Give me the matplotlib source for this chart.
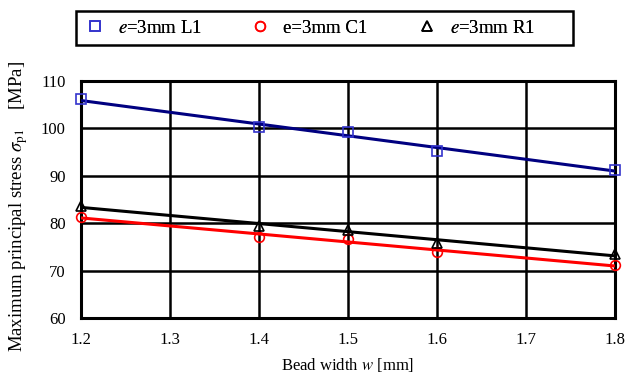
import numpy as np
import matplotlib
matplotlib.use("Agg")
import matplotlib.pyplot as plt
from matplotlib.patches import Rectangle

plt.rcParams['font.family'] = ['Liberation Serif', 'DejaVu Serif']
plt.rcParams['mathtext.fontset'] = 'stix'

# Bead width [mm]
w = np.array([1.2, 1.4, 1.5, 1.6, 1.8])

# Maximum principal stress [MPa]
stress_L1 = np.array([106.2, 100.2, 99.2, 95.3, 91.3])
stress_C1 = np.array([81.4, 77.1, 76.6, 73.9, 71.2])
stress_R1 = np.array([83.7, 79.4, 78.6, 75.9, 73.5])

labels = ['$e$=3mm L1', 'e=3mm C1', '$e$=3mm R1']
x_ticks = [1.2, 1.3, 1.4, 1.5, 1.6, 1.7, 1.8]
y_ticks = [60, 70, 80, 90, 100, 110]

W, H = 632, 374
fig = plt.figure(figsize=(W / 100, H / 100), dpi=100)
ax = fig.add_axes([81 / W, 1 - 318 / H, (615 - 81) / W, (318 - 81) / H])

series = [
    (stress_L1, '#3333cc', '#000080', 's', labels[0]),
    (stress_C1, '#ff0000', '#ff0000', 'o', labels[1]),
    (stress_R1, '#000000', '#000000', '^', labels[2]),
]

# linear trend lines first, then markers on top
for y, mcol, lcol, mk, lab in series:
    k, b = np.polyfit(w, y, 1)
    xx = np.array([w.min(), w.max()])
    ax.plot(xx, k * xx + b, color=lcol, lw=2.2, zorder=3)

handles = []
for y, mcol, lcol, mk, lab in series:
    h, = ax.plot(w, y, linestyle='none', marker=mk, markersize=7,
                 markerfacecolor='none', markeredgecolor=mcol,
                 markeredgewidth=1.2, label=lab, zorder=4, clip_on=False)
    handles.append(h)

ax.set_xlim(1.2, 1.8)
ax.set_ylim(60, 110)
ax.set_xticks(x_ticks)
ax.set_yticks(y_ticks)
ax.set_xticklabels([f'{t:.1f}' for t in x_ticks], fontsize=12)
ax.set_yticklabels([str(t) for t in y_ticks], fontsize=12)
ax.tick_params(axis='x', length=0, pad=10)
ax.tick_params(axis='y', length=0, pad=11)
ax.grid(True, color='black', lw=1.8, zorder=1)
ax.set_axisbelow(True)
for s in ax.spines.values():
    s.set_linewidth(2.2)

ax.set_xlabel('Bead width $w$ [mm]', fontsize=12, labelpad=6)
ax.set_ylabel(r'Maximum principal stress $\sigma_{\rm p1}$    [MPa]', fontsize=13.5)
ax.yaxis.set_label_coords(-51 / 534, (318 - 206) / 237)

# legend: framed box with three entries placed like the original
fig.add_artist(Rectangle((76 / W, 1 - 45 / H), (573 - 76) / W, 34 / H,
                         transform=fig.transFigure, fill=False,
                         edgecolor='black', linewidth=1.8))
marker_x = [95, 260, 427]
for h, lab, mx in zip(handles, labels, marker_x):
    lg = fig.legend(handles=[h], labels=[lab], loc='center left',
                    bbox_to_anchor=((mx - 7.2) / W, 1 - 28 / H),
                    fontsize=13.5, frameon=False, borderpad=0, borderaxespad=0,
                    handlelength=0.8, handletextpad=0.8)
    fig.add_artist(lg)

fig.savefig('out.png', dpi=100)
